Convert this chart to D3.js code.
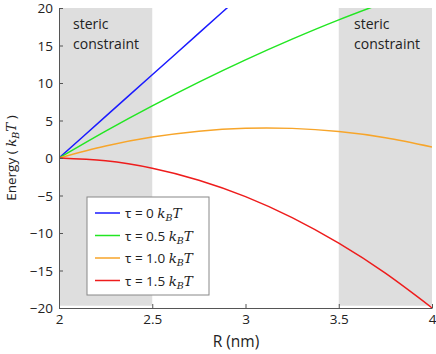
<!DOCTYPE html>
<html><head><meta charset="utf-8">
<script src="https://cdn.jsdelivr.net/npm/d3@7"></script>
<style>body{margin:0;background:#fff}svg{display:block}text{font-family:"Open Sans",sans-serif;fill:#222}</style>
</head><body><svg id="c" width="436" height="354"></svg>
<script>
const R = [2, 2.25, 2.5, 2.75, 3, 3.25, 3.5, 3.75, 4];
const tau0 = [0, 5.55, 11.1, 16.65, 22.2];
const tau05 = [0, 3.58, 6.95, 10.12, 13.09, 15.85, 18.42, 20.78];
const tau10 = [0, 1.60, 2.79, 3.58, 3.97, 3.95, 3.53, 2.71, 1.48];
const tau15 = [0, -0.38, -1.37, -2.96, -5.15, -7.95, -11.36, -15.36, -19.98];
const seriesNames = ["0", "0.5", "1.0", "1.5"];
const seriesColors = ["#1a1aff", "#22e622", "#f7a52a", "#ee1c1c"];
const xTicks = [2, 2.5, 3, 3.5, 4];
const yTicks = [-20, -15, -10, -5, 0, 5, 10, 15, 20];
const bands = [[2, 2.5], [3.5, 4]];

const svg = d3.select("#c");
const x = d3.scaleLinear().domain([2, 4]).range([59, 432]);
const y = d3.scaleLinear().domain([-20, 20]).range([308, 8]);

svg.selectAll("rect.band").data(bands).join("rect").attr("class","band")
  .attr("x", d => x(d[0])).attr("width", d => x(d[1]) - x(d[0]))
  .attr("y", y(20)).attr("height", y(-19.7) - y(20)).attr("fill", "#dedede");

svg.append("text").attr("x", 73).attr("y", 29).attr("font-size", 14).text("steric");
svg.append("text").attr("x", 73).attr("y", 49).attr("font-size", 14).text("constraint");
svg.append("text").attr("x", 354).attr("y", 29).attr("font-size", 14).text("steric");
svg.append("text").attr("x", 354).attr("y", 49).attr("font-size", 14).text("constraint");

svg.append("clipPath").attr("id","clip").append("rect")
  .attr("x", x(2)).attr("y", y(20)).attr("width", x(4)-x(2)).attr("height", y(-20)-y(20));

const all = [tau0, tau05, tau10, tau15];
const line = d3.line().x(d => x(d[0])).y(d => y(d[1])).curve(d3.curveNatural);
all.forEach((s, i) => {
  svg.append("path").attr("clip-path","url(#clip)")
    .datum(s.map((v, j) => [R[j], v]))
    .attr("d", line).attr("fill","none").attr("stroke", seriesColors[i]).attr("stroke-width", 1.5);
});

const xAxis = d3.axisBottom(x).tickValues(xTicks).tickSizeInner(-4).tickSizeOuter(0).tickPadding(6).tickFormat(d3.format("~g"));
const yAxis = d3.axisLeft(y).tickValues(yTicks).tickSizeInner(-4).tickSizeOuter(0).tickPadding(6).tickFormat(d => d < 0 ? "\u2212" + Math.abs(d) : d);
const gx = svg.append("g").attr("transform", `translate(0,${y(-20)})`).call(xAxis);
const gy = svg.append("g").attr("transform", `translate(${x(2)},0)`).call(yAxis);
[gx, gy].forEach(g => {
  g.select(".domain").attr("stroke", "#555");
  g.selectAll(".tick line").attr("stroke", "#555");
  g.selectAll(".tick text").attr("font-size", 13.5).attr("fill", "#222").style("font-family", '"Open Sans",sans-serif');
});
gy.selectAll(".tick text").attr("dy", "0.36em");

svg.append("text").attr("x", 236).attr("y", 347).attr("text-anchor","middle").attr("font-size", 15.5).text("R (nm)");
const yl = svg.append("text").attr("transform", "translate(16,158) rotate(-90)").attr("text-anchor","middle").attr("font-size", 13.5);
yl.append("tspan").text("Energy ( ");
yl.append("tspan").attr("font-style","italic").style("font-family","'DejaVu Serif',serif").text("k");
yl.append("tspan").attr("font-size", 9.5).attr("dy", 3).style("font-family","'DejaVu Serif',serif").attr("font-style","italic").text("B");
yl.append("tspan").attr("dy", -3).attr("font-style","italic").style("font-family","'DejaVu Serif',serif").text("T");
yl.append("tspan").text(" )");

const lg = svg.append("g");
lg.append("rect").attr("x", 87).attr("y", 197).attr("width", 122).attr("height", 98)
  .attr("fill", "#fff").attr("stroke", "#888").attr("stroke-width", 1);
seriesNames.forEach((n, i) => {
  const yy = 213 + i * 22.5;
  lg.append("line").attr("x1", 95).attr("x2", 120).attr("y1", yy).attr("y2", yy)
    .attr("stroke", seriesColors[i]).attr("stroke-width", 1.5);
  const t = lg.append("text").attr("x", 125).attr("y", yy + 5).attr("font-size", 13.5);
  t.append("tspan").text("\u03c4 = " + n + " ");
  t.append("tspan").attr("font-style","italic").style("font-family","'DejaVu Serif',serif").text("k");
  t.append("tspan").attr("font-size", 9.5).attr("dy", 3).attr("font-style","italic").style("font-family","'DejaVu Serif',serif").text("B");
  t.append("tspan").attr("dy", -3).attr("font-style","italic").style("font-family","'DejaVu Serif',serif").text("T");
});
</script></body></html>
